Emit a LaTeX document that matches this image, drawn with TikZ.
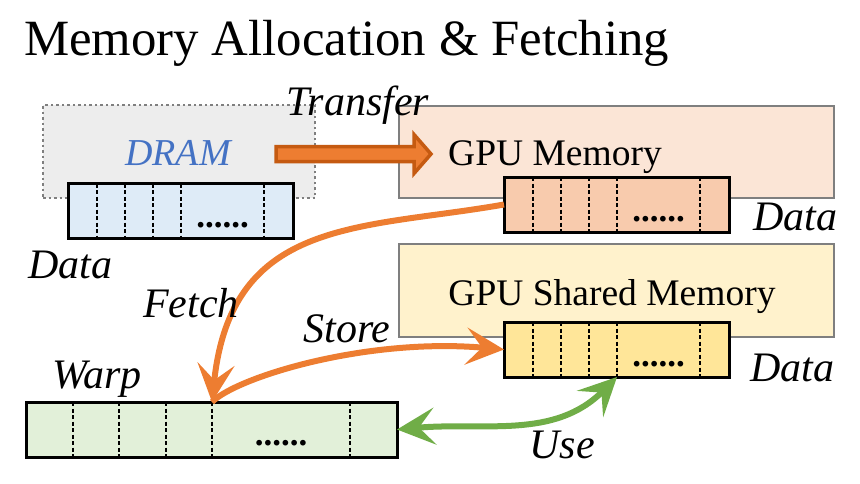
\documentclass[tikz,border=0pt]{standalone}
\usepackage{fontspec}
\setmainfont{Liberation Serif}
\usetikzlibrary{arrows.meta}
\definecolor{dramfill}{HTML}{EDEDED}
\definecolor{dramtext}{HTML}{4472C4}
\definecolor{dramcell}{HTML}{DEEBF7}
\definecolor{gpufill}{HTML}{FBE5D6}
\definecolor{gpucell}{HTML}{F8CBAD}
\definecolor{shfill}{HTML}{FFF2CC}
\definecolor{shcell}{HTML}{FFE699}
\definecolor{warpcell}{HTML}{E2F0D9}
\definecolor{boxline}{HTML}{7F7F7F}
\definecolor{orangeline}{HTML}{ED7D31}
\definecolor{orangedark}{HTML}{C55A11}
\definecolor{greenline}{HTML}{70AD47}
\begin{document}
\begin{tikzpicture}[x=1pt,y=1pt,
    membox/.style={draw=boxline,line width=2.5,minimum width=435,minimum height=92,inner sep=0,outer sep=0},
    cellrow/.style={draw=black,line width=3,minimum width=225,minimum height=55,inner sep=0,outer sep=0},
    slotline/.style={dash pattern=on 4pt off 2.5pt,line width=1.1},
    lbl/.style={font=\fontsize{42}{48}\selectfont\itshape,anchor=base,inner sep=0},
    memlbl/.style={font=\fontsize{37.5}{44}\selectfont,anchor=base,inner sep=0},
    dotrow/.style={font=\fontsize{35}{40}\selectfont\bfseries,anchor=base,inner sep=0},
    fetchflow/.style={line width=6,draw=orangeline,-{Stealth[length=38pt,width=37pt,inset=16pt]}},
    useflow/.style={line width=6,draw=greenline,{Stealth[length=38pt,width=37pt,inset=16pt]}-{Stealth[length=38pt,width=37pt,inset=16pt]}}]
    \useasboundingbox (0,0) rectangle (860,-483);

    \node[anchor=base west,inner sep=0,font=\fontsize{50.8}{60}\selectfont] (title) at (24,-55) {Memory Allocation \& Fetching};

    \node[draw=boxline,fill=dramfill,line width=2.2,dash pattern=on 2.5pt off 3pt,minimum width=272,minimum height=93,inner sep=0] (dram) at (179,-151.5) {};
    \node[font=\fontsize{38}{44}\selectfont\itshape,text=dramtext,anchor=base,inner sep=0] (dramlbl) at (178,-165) {DRAM};
    \node[cellrow,fill=dramcell] (dramdata) at (180.5,-211) {};
    \node[lbl] (dramdatalbl) at (70,-278) {Data};

    \node[membox,fill=gpufill] (gpu) at (616.5,-152) {};
    \node[memlbl] (gpulbl) at (555,-165) {GPU Memory};
    \node[cellrow,fill=gpucell] (gpudata) at (616.5,-204.5) {};
    \node[lbl] (gpudatalbl) at (795,-230) {Data};

    \node[membox,fill=shfill,minimum height=93] (sh) at (616.5,-290.5) {};
    \node[memlbl] (shlbl) at (612,-305) {GPU Shared Memory};
    \node[cellrow,fill=shcell] (shdata) at (616.5,-349.5) {};
    \node[lbl] (shdatalbl) at (792,-381) {Data};

    \node[cellrow,fill=warpcell,minimum width=371] (warp) at (211.5,-429.5) {};
    \node[lbl] (warplbl) at (97,-388) {Warp};

    \foreach \arr in {dramdata,gpudata,shdata}{
      \foreach \t in {29,57,85,113,196}
        \draw[slotline] ([xshift=\t]\arr.north west) -- ([xshift=\t]\arr.south west);
      \node[dotrow] (\arr dots) at ([xshift=154.5,yshift=11]\arr.south west) {......};
    }
    \foreach \t in {47,93,140,186,324}
      \draw[slotline] ([xshift=\t]warp.north west) -- ([xshift=\t]warp.south west);
    \node[dotrow] (warpdots) at ([xshift=255,yshift=12]warp.south west) {......};

    \draw[line width=3.5,draw=orangedark,fill=orangeline] (276,-146.5) -- (414,-146.5) -- (414,-134.5)
      -- (431,-154) -- (414,-173.5) -- (414,-161.5) -- (276,-161.5) -- cycle;
    \node[lbl] (transferlbl) at (358,-115) {Transfer};

    \coordinate (warpslot) at ([xshift=186]warp.north west);
    \coordinate (shslot) at ([xshift=113]shdata.south west);
    \draw[fetchflow] (gpudata.west) to[out=190,in=84,out looseness=1.05,in looseness=1.35] (warpslot);
    \draw[fetchflow] (warpslot) to[out=45,in=175,out looseness=0.3,in looseness=1.2] (shdata.west);
    \draw[useflow] (warp.east) to[out=5,in=225] (shslot);

    \node[lbl] (fetchlbl) at (191,-317) {Fetch};
    \node[lbl] (storelbl) at (347,-342) {Store};
    \node[lbl] (uselbl) at (562,-458) {Use};
\end{tikzpicture}
\end{document}
